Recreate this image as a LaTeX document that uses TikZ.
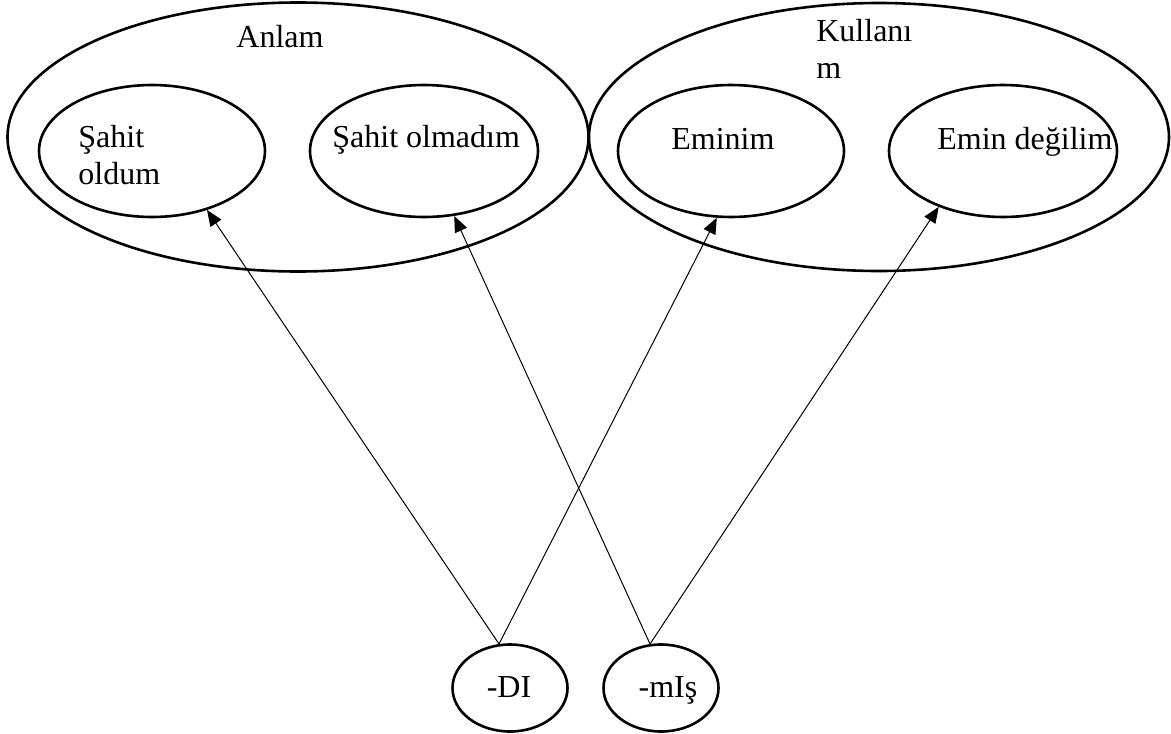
\documentclass[tikz,border=0pt]{standalone}
\usepackage{fontspec}
\setmainfont{Liberation Serif}
\usetikzlibrary{shapes.geometric,arrows.meta}

\tikzset{every picture/.style={line width=0.75pt}}

\begin{document}
\begin{tikzpicture}[x=1pt,y=1pt,yscale=-1,xscale=1,
  oval/.style={draw, ellipse, line width=2.6pt, inner sep=0pt},
  lbl/.style={inner sep=0pt, font=\fontsize{32}{37}\selectfont},
  arr/.style={line width=1pt, -{Triangle[length=16pt,width=13pt]}}]
\useasboundingbox (0,0) rectangle (1171,734);

%Shape: Ellipse - big ones
\node[oval, minimum width=581, minimum height=269] (anlamset) at (298,137) {};
\node[oval, minimum width=580, minimum height=268] (kullset) at (879,137) {};
%Shape: Ellipse - inner ones
\node[oval, minimum width=226, minimum height=132] (oldum) at (152,151) {};
\node[oval, minimum width=228, minimum height=132] (olmadim) at (424,151) {};
\node[oval, minimum width=226, minimum height=132] (emin) at (731,151) {};
\node[oval, minimum width=228, minimum height=132] (degil) at (1003,151) {};
%Shape: Ellipse - suffixes
\node[oval, minimum width=115, minimum height=87] (di) at (510,688) {};
\node[oval, minimum width=115, minimum height=87] (mis) at (661,688) {};

%Straight Lines
\draw[arr] (di.104) -- (oldum.-47);
\draw[arr] (di.104) -- (emin.-102);
\draw[arr] (mis.104) -- (olmadim.-65);
\draw[arr] (mis.104) -- (degil.-139);

% Text Node
\node[lbl, anchor=base] (anlam) at (280,47) {Anlam};
% Text Node
\node[lbl, anchor=north west, align=left] (kullanim) at (816,19) {Kullanı\\m};
% Text Node
\node[lbl, anchor=north west, align=left] (sahitoldum) at (78,125) {Şahit\\oldum};
% Text Node
\node[lbl, anchor=base west] (sahitolmadim) at (332,147) {Şahit olmadım};
% Text Node
\node[lbl, anchor=base west] (eminim) at (671,149) {Eminim};
% Text Node
\node[lbl, anchor=base west] (emindegilim) at (937,149) {Emin değilim};
% Text Node
\node[lbl, anchor=base] (dilabel) at (509,697) {-DI};
% Text Node
\node[lbl, anchor=base] (mislabel) at (668,697) {-mIş};

\end{tikzpicture}
\end{document}
